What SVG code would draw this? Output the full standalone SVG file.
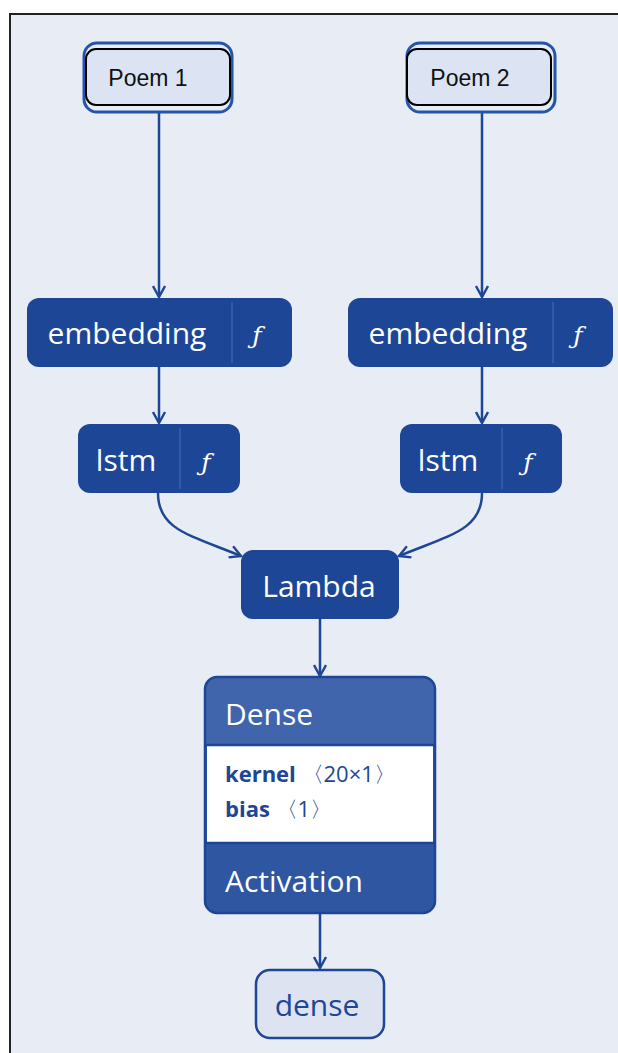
<svg xmlns="http://www.w3.org/2000/svg" width="618" height="1053" viewBox="0 0 618 1053">
<style>
.bg{fill:#e8ecf5}
.node{fill:#1d4696}
.lbl{font-family:"Open Sans","Noto Sans",sans-serif;fill:#ffffff;font-size:30px}
.fn{font-family:"DejaVu Serif","Liberation Serif",serif;font-style:italic;fill:#ffffff;font-size:25px}
.div{stroke:#3b62aa;stroke-width:1.5}
.edge{fill:none;stroke:#1d4696;stroke-width:2.5}
.poem{fill:#dce4f3;stroke:#000;stroke-width:2}
.poemo{fill:none;stroke:#2355a8;stroke-width:3}
.ptxt{font-family:"Liberation Sans",Arial,sans-serif;font-size:23px;fill:#111}
.par{font-family:"Open Sans","Noto Sans",sans-serif;font-size:22px;fill:#1d4696}
</style>
<defs>
<marker id="arr" viewBox="0 0 14 14" refX="12" refY="7" markerWidth="14" markerHeight="14" markerUnits="userSpaceOnUse" orient="auto">
<path d="M1,1 L12,7 L1,13" fill="none" stroke="#1d4696" stroke-width="2.4"/>
</marker>
</defs>
<rect x="0" y="0" width="618" height="1053" fill="#ffffff"/>
<rect x="10" y="14" width="608" height="1039" class="bg"/>
<path d="M10,1053 V14 H618" fill="none" stroke="#222" stroke-width="2"/>

<g id="connectors">
<line class="edge" x1="159" y1="113" x2="159" y2="297" marker-end="url(#arr)"/>
<line class="edge" x1="482" y1="113" x2="482" y2="297" marker-end="url(#arr)"/>
<line class="edge" x1="159" y1="367" x2="159" y2="423" marker-end="url(#arr)"/>
<line class="edge" x1="482" y1="367" x2="482" y2="423" marker-end="url(#arr)"/>
<path class="edge" d="M158,493 C158,530 190,535 241,556" marker-end="url(#arr)"/>
<path class="edge" d="M482,493 C482,530 450,535 399,556" marker-end="url(#arr)"/>
<line class="edge" x1="320" y1="619" x2="320" y2="676" marker-end="url(#arr)"/>
<line class="edge" x1="320" y1="913" x2="320" y2="968" marker-end="url(#arr)"/>
</g>

<g id="poem1">
<rect class="poemo" x="84" y="43" width="148" height="69" rx="13"/>
<rect class="poem" x="86" y="49" width="144" height="56" rx="10"/>
<text class="ptxt" x="148" y="86" text-anchor="middle">Poem 1</text>
</g>
<g id="poem2">
<rect class="poemo" x="407" y="43" width="148" height="69" rx="13"/>
<rect class="poem" x="407" y="49" width="144" height="56" rx="10"/>
<text class="ptxt" x="470" y="86" text-anchor="middle">Poem 2</text>
</g>

<g id="embedding1">
<rect class="node" x="27" y="298" width="265" height="69" rx="12"/>
<line class="div" x1="232" y1="302" x2="232" y2="363"/>
<text class="lbl" x="127" y="344" text-anchor="middle">embedding</text>
<text class="fn" x="257" y="344" text-anchor="middle">ƒ</text>
</g>
<g id="embedding2">
<rect class="node" x="348" y="298" width="265" height="69" rx="12"/>
<line class="div" x1="553" y1="302" x2="553" y2="363"/>
<text class="lbl" x="448" y="344" text-anchor="middle">embedding</text>
<text class="fn" x="578" y="344" text-anchor="middle">ƒ</text>
</g>
<g id="lstm1">
<rect class="node" x="78" y="424" width="162" height="69" rx="12"/>
<line class="div" x1="180" y1="428" x2="180" y2="489"/>
<text class="lbl" x="126" y="471" text-anchor="middle">lstm</text>
<text class="fn" x="206" y="471" text-anchor="middle">ƒ</text>
</g>
<g id="lstm2">
<rect class="node" x="400" y="424" width="162" height="69" rx="12"/>
<line class="div" x1="502" y1="428" x2="502" y2="489"/>
<text class="lbl" x="448" y="471" text-anchor="middle">lstm</text>
<text class="fn" x="528" y="471" text-anchor="middle">ƒ</text>
</g>
<g id="lambda">
<rect class="node" x="241" y="550" width="158" height="69" rx="12"/>
<text class="lbl" x="319" y="597" text-anchor="middle">Lambda</text>
</g>
<g id="dense_layer">
<rect x="205" y="677" width="230" height="236" rx="12" fill="#2e56a1"/>
<path d="M217,677 H423 A12,12 0 0 1 435,689 V745 H205 V689 A12,12 0 0 1 217,677 Z" fill="#4065ac"/>
<rect x="207" y="745" width="226" height="98" fill="#ffffff"/>
<rect x="205" y="677" width="230" height="236" rx="12" fill="none" stroke="#1d4696" stroke-width="2.5"/>
<line x1="205" y1="745" x2="435" y2="745" stroke="#1d4696" stroke-width="2.5"/>
<line x1="205" y1="843" x2="435" y2="843" stroke="#1d4696" stroke-width="2.5"/>
<text class="lbl" x="225" y="725">Dense</text>
<text class="par" x="225" y="782"><tspan font-weight="bold">kernel</tspan> 〈20×1〉</text>
<text class="par" x="225" y="817"><tspan font-weight="bold">bias</tspan> 〈1〉</text>
<text class="lbl" x="225" y="892">Activation</text>
</g>
<g id="dense_out">
<rect x="256" y="970" width="128" height="68" rx="14" fill="#dde3f1" stroke="#1d4696" stroke-width="2.5"/>
<text x="317" y="1016" text-anchor="middle" font-family="'Open Sans','Noto Sans',sans-serif" font-size="30" fill="#1d4696">dense</text>
</g>
</svg>
